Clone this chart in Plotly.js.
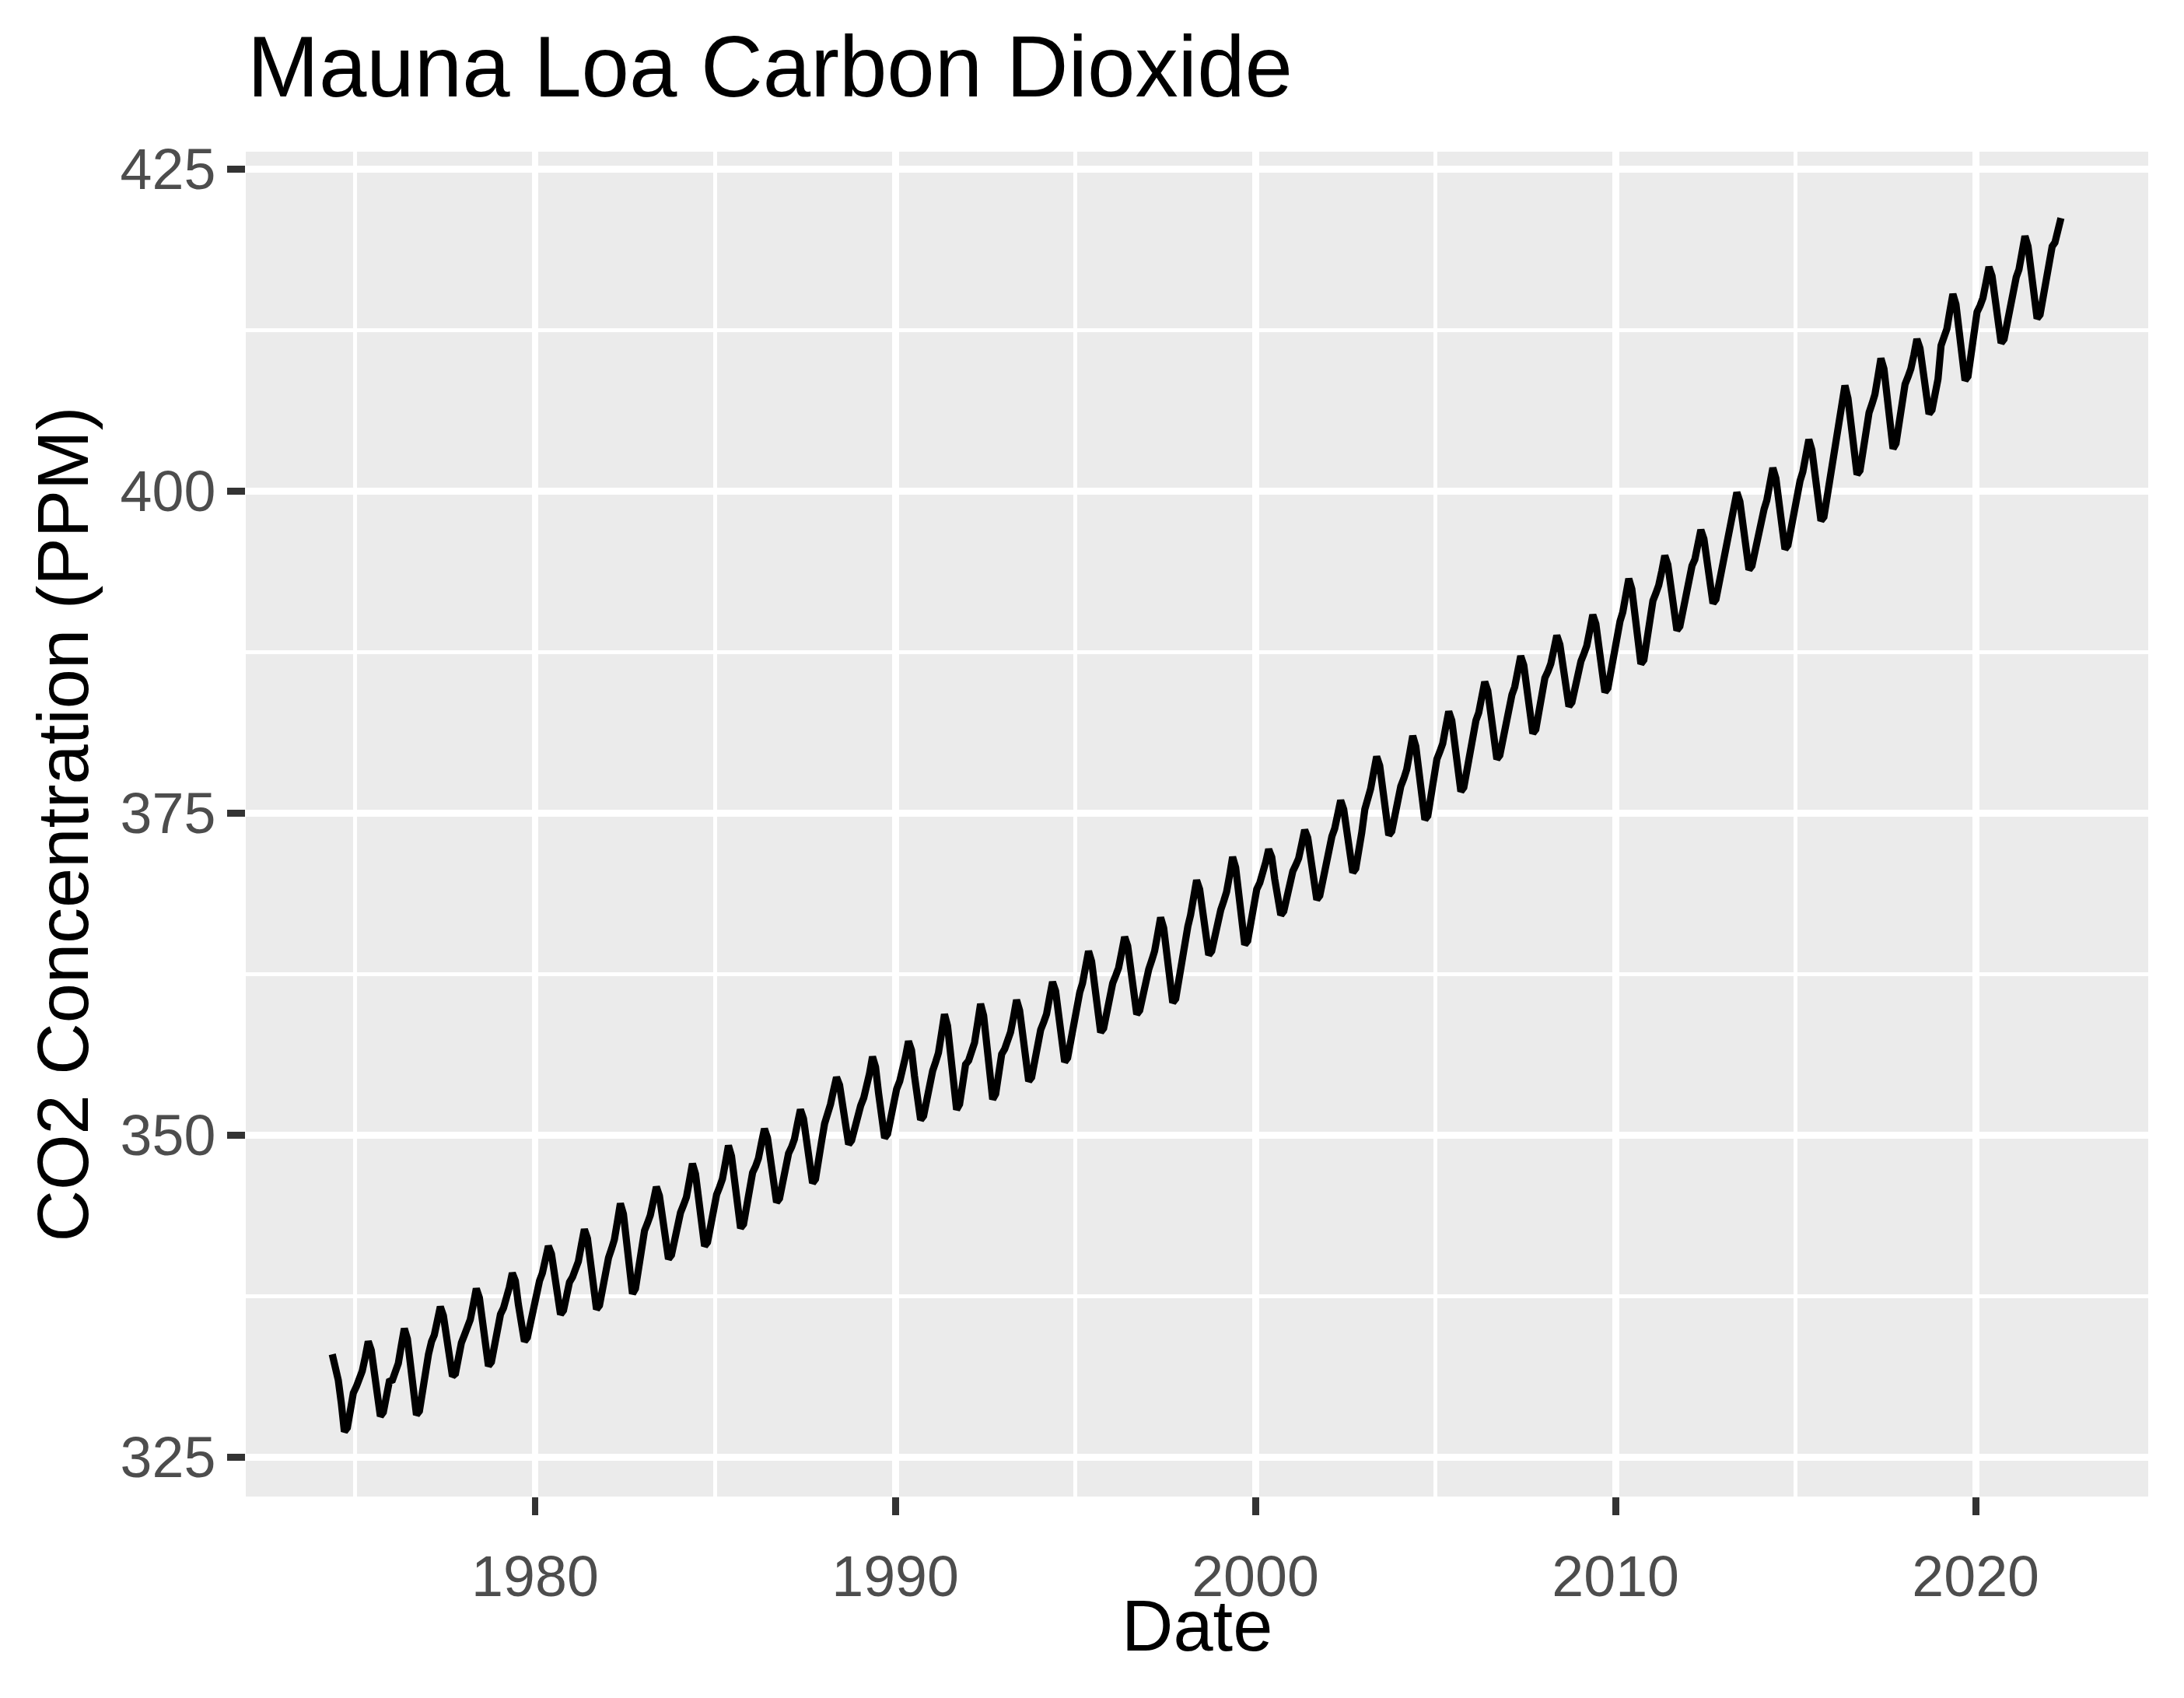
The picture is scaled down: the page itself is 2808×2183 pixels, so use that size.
<!DOCTYPE html>
<html>
<head>
<meta charset="utf-8">
<script src="https://cdn.plot.ly/plotly-3.0.1.min.js"></script>
<style>html,body{margin:0;padding:0;background:#fff;}#chart{width:2808px;height:2183px;}</style>
</head>
<body>
<div id="chart"></div>
<script>
// Monthly CO2 (ppm), starting May 1974
const seriesStart = { year: 1974, month: 5 };
const co2_1970s = [
  333.0, 332.2, 331.0, 329.2, 327.0, 327.3, 328.7, 330.0,
  330.5, 331.1, 331.7, 332.8, 334.0, 333.3, 331.4, 329.5, 328.2, 328.5, 329.8, 330.9,
  331.0, 331.6, 332.3, 333.7, 335.0, 334.2, 332.0, 329.8, 328.3, 328.6, 330.1, 331.9,
  333.0, 334.0, 334.5, 335.6, 336.7, 336.0, 334.3, 332.5, 331.3, 331.5, 332.8, 333.9,
  334.5, 335.1, 335.7, 336.9, 338.1, 337.4, 335.4, 333.4, 332.1, 332.4, 333.7, 334.9,
  336.1, 336.6, 337.2, 338.2, 339.3, 338.7, 336.9, 335.2, 334.0, 334.3, 335.4, 336.5
];
const co2_1980s = [
  338.2, 338.7, 339.3, 340.3, 341.4, 340.8, 339.0, 337.3, 336.1, 336.4, 337.5, 338.6,
  339.0, 339.6, 340.2, 341.5, 342.7, 342.0, 339.9, 337.9, 336.5, 336.8, 338.2, 339.4,
  340.5, 341.2, 341.9, 343.3, 344.7, 343.9, 341.6, 339.2, 337.7, 338.1, 339.6, 341.0,
  342.6, 343.2, 343.8, 344.9, 346.0, 345.3, 343.5, 341.6, 340.4, 340.7, 341.9, 343.0,
  344.0, 344.6, 345.2, 346.5, 347.8, 347.0, 344.9, 342.8, 341.4, 341.7, 343.1, 344.4,
  345.4, 346.0, 346.6, 347.9, 349.2, 348.4, 346.3, 344.2, 342.8, 343.1, 344.5, 345.8,
  347.1, 347.6, 348.2, 349.4, 350.5, 349.8, 347.9, 346.1, 344.8, 345.1, 346.3, 347.5,
  348.6, 349.1, 349.7, 350.9, 352.0, 351.3, 349.4, 347.6, 346.3, 346.6, 347.8, 349.5,
  350.9, 351.6, 352.4, 353.5, 354.5, 353.9, 352.2, 350.5, 349.3, 349.6, 350.7, 351.7,
  352.3, 352.9, 353.6, 354.8, 356.1, 355.3, 353.3, 351.2, 349.8, 350.1, 351.5, 352.8
];
const co2_1990s = [
  353.6, 354.2, 354.9, 356.1, 357.3, 356.6, 354.6, 352.5, 351.2, 351.5, 352.8, 354.1,
  355.0, 355.7, 356.4, 357.9, 359.4, 358.5, 356.1, 353.6, 352.0, 352.4, 354.0, 355.5,
  355.8, 356.5, 357.2, 358.7, 360.2, 359.3, 356.9, 354.4, 352.8, 353.2, 354.8, 356.3,
  356.7, 357.3, 358.0, 359.2, 360.5, 359.7, 357.7, 355.6, 354.2, 354.5, 355.9, 357.2,
  358.2, 358.8, 359.4, 360.7, 361.9, 361.2, 359.1, 357.1, 355.7, 356.0, 357.4, 358.6,
  360.5, 361.1, 361.8, 363.0, 364.3, 363.5, 361.5, 359.4, 358.0, 358.3, 359.7, 361.0,
  361.8, 362.4, 363.0, 364.2, 365.4, 364.7, 362.7, 360.7, 359.4, 359.7, 361.0, 362.2,
  362.9, 363.6, 364.3, 365.6, 366.9, 366.1, 363.9, 361.8, 360.3, 360.6, 362.1, 363.9,
  365.4, 366.2, 367.1, 368.6, 369.8, 369.1, 367.2, 365.3, 364.0, 364.3, 365.6, 366.7,
  367.5, 368.2, 368.9, 370.2, 371.6, 370.8, 368.5, 366.3, 364.8, 365.1, 366.6, 368.0
];
const co2_2000s = [
  369.1, 369.6, 370.2, 371.2, 372.2, 371.6, 369.9, 368.2, 367.1, 367.4, 368.5, 369.5,
  370.5, 371.0, 371.5, 372.6, 373.7, 373.1, 371.3, 369.5, 368.3, 368.6, 369.8, 370.8,
  372.6, 373.2, 373.8, 374.9, 376.0, 375.3, 373.5, 371.6, 370.4, 370.7, 371.9, 373.5,
  375.3, 376.0, 376.9, 378.2, 379.4, 378.7, 376.7, 374.6, 373.3, 373.6, 375.0, 376.2,
  377.1, 377.7, 378.4, 379.7, 381.0, 380.2, 378.1, 375.9, 374.5, 374.8, 376.3, 377.6,
  379.2, 379.8, 380.4, 381.7, 382.9, 382.2, 380.1, 378.1, 376.7, 377.0, 378.4, 379.6,
  381.6, 382.2, 382.8, 384.0, 385.2, 384.5, 382.5, 380.5, 379.2, 379.5, 380.8, 382.0,
  383.6, 384.2, 384.8, 386.0, 387.2, 386.5, 384.5, 382.5, 381.2, 381.5, 382.8, 384.0,
  385.5, 386.0, 386.6, 387.7, 388.8, 388.1, 386.3, 384.5, 383.3, 383.6, 384.8, 385.9,
  386.8, 387.4, 388.0, 389.2, 390.4, 389.7, 387.7, 385.7, 384.4, 384.7, 386.0, 387.2
];
const co2_2010s = [
  389.2, 389.9, 390.6, 391.9, 393.2, 392.4, 390.2, 388.1, 386.6, 386.9, 388.4, 389.7,
  391.5, 392.1, 392.7, 393.8, 395.0, 394.3, 392.4, 390.5, 389.2, 389.5, 390.8, 391.9,
  393.6, 394.2, 394.7, 395.9, 397.0, 396.3, 394.4, 392.6, 391.3, 391.6, 392.8, 394.4,
  395.8, 396.8, 397.5, 398.7, 399.9, 399.2, 397.2, 395.2, 393.9, 394.2, 395.5, 396.7,
  398.0, 398.6, 399.3, 400.5, 401.8, 401.0, 399.0, 396.9, 395.5, 395.8, 397.2, 398.5,
  400.2, 400.8, 401.5, 402.7, 404.0, 403.2, 401.2, 399.1, 397.7, 398.0, 399.4, 401.5,
  402.8, 403.8, 404.8, 406.8, 408.2, 407.2, 405.0, 402.7, 401.3, 401.6, 403.2, 404.6,
  406.1, 406.8, 407.5, 408.9, 410.3, 409.5, 407.1, 404.8, 403.3, 403.7, 405.2, 406.6,
  408.3, 408.9, 409.5, 410.6, 411.8, 411.1, 409.2, 407.3, 406.0, 406.3, 407.6, 408.7,
  411.3, 412.0, 412.6, 414.0, 415.3, 414.5, 412.3, 410.1, 408.6, 408.9, 410.4, 411.8
];
const co2_2020s = [
  413.9, 414.4, 415.0, 416.2, 417.4, 416.7, 414.7, 412.8, 411.5, 411.8, 413.1, 414.3,
  416.0, 416.6, 417.2, 418.5, 419.8, 419.0, 416.9, 414.8, 413.4, 413.7, 415.1, 416.4,
  418.1, 419.0, 419.3, 420.2, 421.2
];
const xTickYears = [1980, 1990, 2000, 2010, 2020];
const yTickValues = [325, 350, 375, 400, 425];
const chartTitle = 'Mauna Loa Carbon Dioxide';
const xTitle = 'Date';
const yTitle = 'CO2 Concentration (PPM)';

const co2 = [].concat(co2_1970s, co2_1980s, co2_1990s, co2_2000s, co2_2010s, co2_2020s);
const dates = co2.map((_, i) => {
  const m0 = (seriesStart.month - 1) + i;
  const y = seriesStart.year + Math.floor(m0 / 12);
  const m = (m0 % 12) + 1;
  return y + '-' + String(m).padStart(2, '0') + '-15';
});

const FONT = 'Liberation Sans, Arial, Helvetica, sans-serif';
const L = 315.7, R = 46, T = 195, B = 259;
const W = 2808, H = 2183;
const pw = W - L - R, ph = H - T - B;
const px2x = (px) => (px - L) / pw;
const px2y = (py) => (H - B - py) / ph;

const trace = {
  type: 'scatter', mode: 'lines', x: dates, y: co2,
  line: { color: '#000000', width: 9.2 },
  hoverinfo: 'skip', showlegend: false
};

const layout = {
  width: W, height: H,
  margin: { l: L, r: R, t: T, b: B, pad: 0 },
  paper_bgcolor: '#FFFFFF', plot_bgcolor: '#EBEBEB',
  font: { family: FONT },
  showlegend: false,
  xaxis: {
    type: 'date',
    range: ['1971-12-20', '2024-10-16'],
    tickmode: 'array',
    tickvals: xTickYears.map(y => y + '-01-01'),
    ticktext: xTickYears.map(String),
    ticks: 'outside', ticklen: 22.9, tickwidth: 8.9, tickcolor: '#333333',
    ticklabelstandoff: 16,
    tickfont: { size: 73.6, color: '#4D4D4D', family: FONT },
    showgrid: true, gridcolor: '#FFFFFF', gridwidth: 8.9,
    minor: { tick0: '1975-01-01', dtick: 'M120', showgrid: true, gridcolor: '#FFFFFF', gridwidth: 4.4, ticks: '' },
    zeroline: false, showline: false, fixedrange: true
  },
  yaxis: {
    range: [321.96, 426.35],
    tickmode: 'array',
    tickvals: yTickValues,
    ticktext: yTickValues.map(String),
    ticks: 'outside', ticklen: 22.9, tickwidth: 8.9, tickcolor: '#333333',
    tickfont: { size: 73.6, color: '#4D4D4D', family: FONT },
    showgrid: true, gridcolor: '#FFFFFF', gridwidth: 8.9,
    minor: { tick0: 337.5, dtick: 25, showgrid: true, gridcolor: '#FFFFFF', gridwidth: 4.4, ticks: '' },
    zeroline: false, showline: false, fixedrange: true
  },
  annotations: [
    { text: chartTitle, xref: 'paper', yref: 'paper', x: px2x(L), y: px2y(85),
      xanchor: 'left', yanchor: 'middle', showarrow: false,
      font: { size: 110.4, color: '#000000', family: FONT } },
    { text: xTitle, xref: 'paper', yref: 'paper', x: 0.5, y: px2y(2090),
      xanchor: 'center', yanchor: 'middle', showarrow: false,
      font: { size: 92, color: '#000000', family: FONT } },
    { text: yTitle, xref: 'paper', yref: 'paper', x: px2x(80.6), y: 0.5, textangle: -90,
      xanchor: 'center', yanchor: 'middle', showarrow: false,
      font: { size: 92, color: '#000000', family: FONT } }
  ]
};

Plotly.newPlot('chart', [trace], layout, { displayModeBar: false, staticPlot: true });
</script>
</body>
</html>
